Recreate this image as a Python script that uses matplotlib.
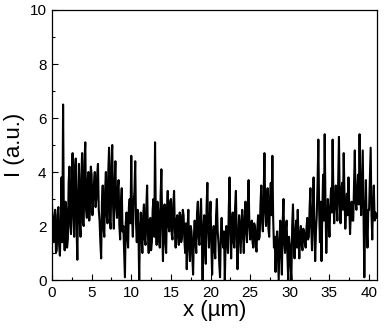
import numpy as np
import matplotlib
matplotlib.use("Agg")
import matplotlib.pyplot as plt
from matplotlib.ticker import MultipleLocator

plt.rcParams['font.family'] = ['Liberation Sans', 'DejaVu Sans']

# intensity profile, sampled every 0.1 um from x = 0 (one row per um)
intensity = [
    2.8, 1.9, 1.4, 2.3, 2.6, 1.0, 1.1, 2.4, 2.7, 1.3,
    0.9, 2.2, 3.8, 1.4, 6.5, 2.0, 1.1, 2.9, 2.6, 1.2,
    1.5, 3.6, 4.2, 2.0, 1.7, 3.9, 4.7, 2.3, 1.6, 4.1,
    4.5, 1.9, 0.75, 3.2, 4.3, 2.2, 1.6, 3.8, 4.7, 2.1,
    2.0, 4.4, 5.1, 2.6, 2.3, 3.7, 4.0, 2.2, 2.8, 4.2,
    3.9, 2.4, 2.9, 3.6, 4.0, 2.7, 3.0, 3.9, 4.3, 2.6,
    2.2, 1.4, 0.8, 2.9, 3.5, 1.9, 1.6, 3.3, 4.0, 2.4,
    2.1, 4.0, 4.9, 2.2, 1.9, 4.3, 5.0, 2.8, 1.9, 3.6,
    4.4, 2.7, 2.3, 3.4, 3.7, 2.0, 1.5, 2.9, 3.4, 1.8,
    2.0, 1.0, 0.1, 2.1, 2.5, 1.6, 1.2, 2.7, 3.0, 2.1,
    4.6, 2.3, 1.6, 2.8, 3.3, 4.4, 2.1, 1.4, 2.6, 1.9,
    0.0, 1.8, 2.5, 1.6, 1.0, 2.4, 2.8, 1.5, 1.3, 2.7,
    3.5, 1.7, 1.0, 2.2, 2.3, 1.1, 1.4, 2.6, 3.0, 1.6,
    5.1, 2.3, 1.3, 2.9, 2.6, 1.5, 1.2, 3.1, 4.1, 2.0,
    0.7, 2.2, 2.8, 1.4, 1.0, 2.6, 3.3, 2.0, 1.8, 2.9,
    3.0, 1.7, 1.5, 2.8, 3.3, 1.9, 1.2, 2.2, 2.4, 1.6,
    1.3, 2.5, 2.4, 1.4, 1.6, 2.6, 2.4, 1.5, 1.0, 2.1,
    0.4, 1.9, 2.6, 1.2, 0.7, 2.0, 1.8, 0.9, 0.2, 1.6,
    2.2, 1.4, 1.0, 2.5, 2.9, 1.6, 1.3, 2.3, 3.0, 1.7,
    0.0, 1.9, 2.4, 1.1, 0.6, 2.7, 3.6, 1.9, 1.2, 2.3,
    2.9, 1.3, 0.2, 1.6, 2.0, 1.1, 0.8, 2.4, 3.0, 1.8,
    1.4, 0.6, 0.1, 1.7, 2.3, 1.5, 1.2, 1.8, 0.0, 1.3,
    2.0, 1.5, 1.0, 2.6, 3.8, 1.9, 0.8, 2.1, 2.5, 1.4,
    1.2, 2.7, 3.3, 1.5, 0.4, 1.6, 2.4, 1.7, 1.0, 2.2,
    2.6, 1.6, 1.0, 2.3, 2.9, 1.8, 1.4, 2.8, 3.7, 2.0,
    1.5, 2.0, 2.2, 1.4, 1.2, 2.1, 2.0, 1.3, 1.05, 1.9,
    2.4, 1.5, 1.6, 2.8, 3.5, 2.2, 1.8, 3.1, 4.7, 2.6,
    2.0, 2.9, 3.4, 1.9, 1.6, 3.0, 3.6, 2.4, 4.6, 2.3,
    1.2, 1.6, 0.3, 1.4, 1.8, 0.9, 0.0, 1.5, 2.2, 1.0,
    0.2, 2.1, 3.0, 1.4, 1.0, 1.9, 2.2, 0.9, 0.0, 1.6,
    1.3, 0.5, 0.0, 2.0, 2.8, 1.5, 0.8, 1.7, 2.2, 1.2,
    2.6, 1.5, 0.8, 1.7, 2.0, 1.3, 1.1, 1.9, 1.8, 1.4,
    1.2, 1.9, 2.3, 1.5, 1.6, 2.7, 3.4, 2.0, 1.1, 2.4,
    3.8, 2.0, 0.7, 1.8, 2.4, 3.6, 5.2, 2.6, 1.4, 2.9,
    0.7, 2.5, 3.9, 2.2, 5.4, 2.8, 1.0, 2.1, 3.0, 2.3,
    1.6, 2.7, 3.4, 2.5, 5.2, 3.0, 2.1, 2.9, 3.5, 2.8,
    2.2, 3.6, 5.3, 2.9, 2.1, 3.3, 3.6, 2.6, 4.7, 3.1,
    1.9, 2.6, 3.2, 2.4, 3.8, 2.7, 1.7, 2.5, 2.9, 2.2,
    2.2, 3.5, 4.8, 2.9, 2.6, 3.3, 3.9, 2.8, 5.4, 3.2,
    2.4, 3.6, 4.8, 2.3, 0.1, 2.2, 3.7, 2.0, 1.2, 2.6,
    2.6, 3.8, 4.9, 2.5, 1.5, 2.8, 3.5, 2.2, 2.5, 2.3,
]
x_step = 0.1
x = np.arange(len(intensity)) * x_step

x_ticks = [0, 5, 10, 15, 20, 25, 30, 35, 40]
y_ticks = [0, 2, 4, 6, 8, 10]

fig = plt.figure(figsize=(3.86, 3.30), dpi=100)
ax = fig.add_axes([0.1347, 0.1515, 0.842, 0.8182])
ax.plot(x, intensity, color='black', lw=1.5)

ax.set_xlim(0, 41)
ax.set_ylim(0, 10)
ax.set_xticks(x_ticks)
ax.set_yticks(y_ticks)
ax.xaxis.set_minor_locator(MultipleLocator(2.5))
ax.yaxis.set_minor_locator(MultipleLocator(1))
ax.tick_params(which='major', direction='in', length=4, width=0.8, labelsize=11, pad=4)
ax.tick_params(which='minor', direction='in', length=2.5, width=0.8)
for s in ax.spines.values():
    s.set_linewidth(0.9)

ax.set_xlabel('x (µm)', fontsize=16, labelpad=0)
ax.set_ylabel('I (a.u.)', fontsize=16, labelpad=3)

fig.savefig('out.png', dpi=100)
